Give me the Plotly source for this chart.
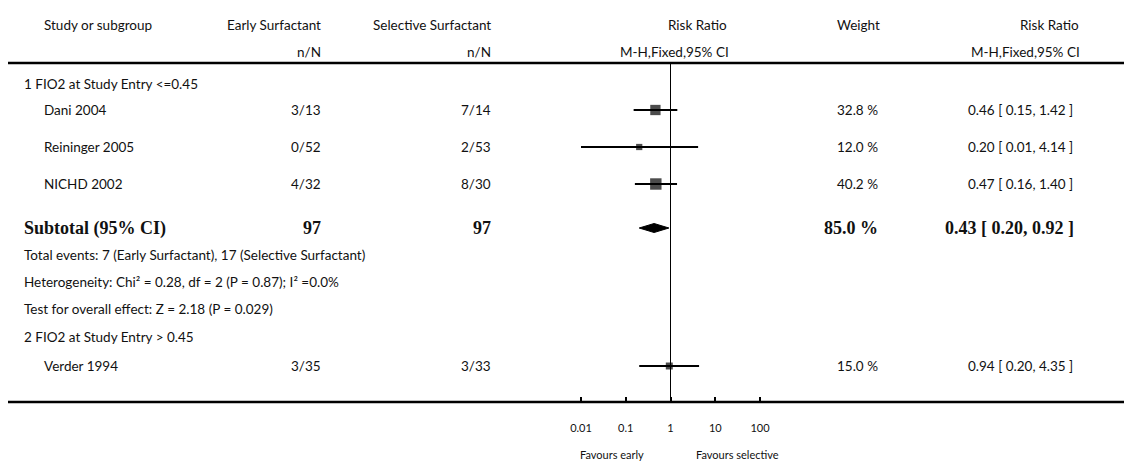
import plotly.graph_objects as go

W, H = 1124, 463

# ---------------- data ----------------
studies = ["Dani 2004", "Reininger 2005", "NICHD 2002", "Verder 1994"]
subgroup_of = [1, 1, 1, 2]
early_events = [3, 0, 4, 3]
early_total = [13, 52, 32, 35]
sel_events = [7, 2, 8, 3]
sel_total = [14, 53, 30, 33]
rr = [0.46, 0.20, 0.47, 0.94]
rr_lo = [0.15, 0.01, 0.16, 0.20]
rr_hi = [1.42, 4.14, 1.40, 4.35]
weight = [32.8, 12.0, 40.2, 15.0]

sub_rr, sub_lo, sub_hi = 0.43, 0.20, 0.92
sub_weight = 85.0
heterogeneity = "Heterogeneity: Chi² = 0.28, df = 2 (P = 0.87); I² =0.0%"
overall = "Test for overall effect: Z = 2.18 (P = 0.029)"
subgroup_titles = ["1 FIO2 at Study Entry <=0.45", "2 FIO2 at Study Entry > 0.45"]

tick_vals = [0.01, 0.1, 1, 10, 100]
tick_text = ["0.01", "0.1", "1", "10", "100"]

# ---------------- layout constants (pixels) ----------------
FONT = "Lato"
SERIF = "Liberation Serif"
FS = 13.5
BS = 18
AXIS_Y = 402
TOP_LINE = 63
ROW = {
    "h1": 25, "h2": 52, "sg1": 84,
    "s0": 110, "s1": 147, "s2": 184,
    "sub": 228, "tot": 255, "het": 282, "test": 309,
    "sg2": 337, "s3": 366,
    "fav": 454,
}
study_rows = [ROW["s0"], ROW["s1"], ROW["s2"], ROW["s3"]]

X_NAME_IND = 42
X_LEFT = 22
X_EARLY = 323
X_SEL = 493
X_WEIGHT = 880
X_RRTXT = 1075

def px(x):
    return x / W

def py(y):
    return 1 - y / H

fig = go.Figure()

# vertical line of no effect
fig.add_trace(go.Scatter(x=[1, 1], y=[TOP_LINE, AXIS_Y], mode="lines",
                         line=dict(color="black", width=1), hoverinfo="skip"))

# confidence interval lines
cx, cy = [], []
for lo, hi, y in zip(rr_lo, rr_hi, study_rows):
    cx += [lo, hi, None]
    cy += [y, y, None]
fig.add_trace(go.Scatter(x=cx, y=cy, mode="lines",
                         line=dict(color="black", width=1.8), hoverinfo="skip"))

# point estimates (squares sized by weight)
sizes = [1.8 * (w ** 0.5) for w in weight]
fig.add_trace(go.Scatter(x=rr, y=study_rows, mode="markers",
                         marker=dict(symbol="square", size=sizes, color="black",
                                     line=dict(width=0)),
                         hoverinfo="skip"))

# subtotal diamond
yd = ROW["sub"]
fig.add_trace(go.Scatter(x=[sub_lo, sub_rr, sub_hi, sub_rr, sub_lo],
                         y=[yd, yd - 4.5, yd, yd + 4.5, yd],
                         mode="lines", fill="toself", fillcolor="black",
                         line=dict(color="black", width=1), hoverinfo="skip"))

annotations = []

def txt(s, x, y, anchor="left", size=FS, font=FONT, weight="normal"):
    annotations.append(dict(text=s, x=px(x), y=py(y), xref="paper", yref="paper",
                            xanchor=anchor, yanchor="middle", showarrow=False,
                            font=dict(family=font, size=size, color="#111",
                                      weight=weight)))

# headers
txt("Study or subgroup", X_NAME_IND, ROW["h1"])
txt("Early Surfactant", X_EARLY, ROW["h1"], "right")
txt("n/N", X_EARLY, ROW["h2"], "right")
txt("Selective Surfactant", X_SEL, ROW["h1"], "right")
txt("n/N", X_SEL, ROW["h2"], "right")
txt("Risk Ratio", 697, ROW["h1"], "center")
txt("M-H,Fixed,95% CI", 674, ROW["h2"], "center")
txt("Weight", 858, ROW["h1"], "center")
txt("Risk Ratio", 1081, ROW["h1"], "right")
txt("M-H,Fixed,95% CI", 1082, ROW["h2"], "right")

# studies
txt(subgroup_titles[0], X_LEFT, ROW["sg1"])
for i, y in enumerate(study_rows):
    txt(studies[i], X_NAME_IND, y)
    txt(f"{early_events[i]}/{early_total[i]}", X_EARLY, y, "right")
    txt(f"{sel_events[i]}/{sel_total[i]}", X_SEL, y, "right")
    txt(f"{weight[i]:.1f} %", X_WEIGHT, y, "right")
    txt(f"{rr[i]:.2f} [ {rr_lo[i]:.2f}, {rr_hi[i]:.2f} ]", X_RRTXT, y, "right")

g1 = [i for i, g in enumerate(subgroup_of) if g == 1]
n_e = sum(early_total[i] for i in g1)
n_s = sum(sel_total[i] for i in g1)
ev_e = sum(early_events[i] for i in g1)
ev_s = sum(sel_events[i] for i in g1)

txt("Subtotal (95% CI)", X_LEFT, ROW["sub"], size=BS, font=SERIF, weight="bold")
txt(str(n_e), X_EARLY, ROW["sub"], "right", size=BS, font=SERIF, weight="bold")
txt(str(n_s), X_SEL, ROW["sub"], "right", size=BS, font=SERIF, weight="bold")
txt(f"{sub_weight:.1f} %", X_WEIGHT, ROW["sub"], "right", size=BS, font=SERIF, weight="bold")
txt(f"{sub_rr:.2f} [ {sub_lo:.2f}, {sub_hi:.2f} ]", X_RRTXT + 1, ROW["sub"], "right",
    size=BS, font=SERIF, weight="bold")
txt(f"Total events: {ev_e} (Early Surfactant), {ev_s} (Selective Surfactant)", X_LEFT, ROW["tot"])
txt(heterogeneity, X_LEFT, ROW["het"])
txt(overall, X_LEFT, ROW["test"])
txt(subgroup_titles[1], X_LEFT, ROW["sg2"])

# favours labels
txt("Favours early", 612, ROW["fav"], "center", size=11)
txt("Favours selective", 737, ROW["fav"], "center", size=11)

# rules
shapes = [
    dict(type="line", xref="paper", yref="paper", x0=px(8), x1=1.0,
         y0=py(TOP_LINE), y1=py(TOP_LINE), line=dict(color="black", width=2.5)),
    dict(type="line", xref="paper", yref="paper", x0=px(8), x1=1.0,
         y0=py(AXIS_Y), y1=py(AXIS_Y), line=dict(color="black", width=2.5)),
]

# log axis so that 0.01 -> x=581 px and 100 -> x=760 px
dec = (760 - 581) / 4.0
lo_log = -2 - 581 / dec
hi_log = 2 + (W - 760) / dec

fig.update_layout(
    width=W, height=H, margin=dict(l=0, r=0, t=0, b=0),
    paper_bgcolor="white", plot_bgcolor="white", showlegend=False,
    annotations=annotations, shapes=shapes,
    xaxis=dict(type="log", range=[lo_log, hi_log], domain=[0, 1],
               tickvals=tick_vals, ticktext=tick_text, ticks="inside",
               ticklen=5, tickwidth=2, tickcolor="black",
               showgrid=False, zeroline=False, showline=False,
               tickfont=dict(family=FONT, size=11, color="#111"),
               ticklabelstandoff=18, fixedrange=True),
    yaxis=dict(range=[AXIS_Y, 0], domain=[(H - AXIS_Y) / H, 1], visible=False,
               fixedrange=True),
)

fig.write_html("out.html")
